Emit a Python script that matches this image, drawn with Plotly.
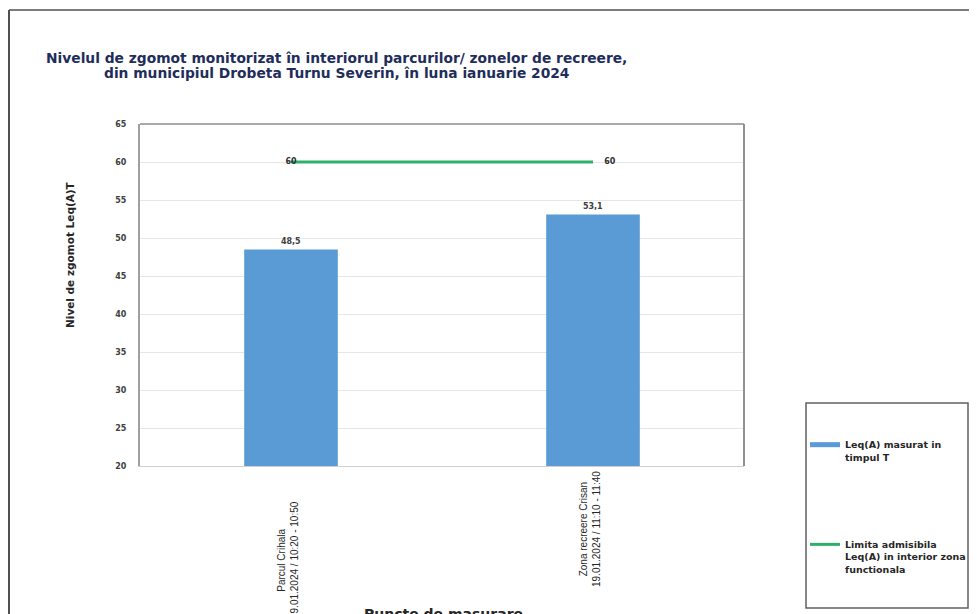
import plotly.graph_objects as go

categories = ["Parcul Crihala", "Zona recreere Crisan"]
tick_labels = ["Parcul Crihala<br>19.01.2024 / 10:20 - 10:50",
               "Zona recreere Crisan<br>19.01.2024 / 11:10 - 11:40"]
leq_values = [48.5, 53.1]
limit_values = [60, 60]
y_ticks = [20, 25, 30, 35, 40, 45, 50, 55, 60, 65]

title_lines = ["Nivelul de zgomot monitorizat în interiorul parcurilor/ zonelor de recreere,",
               "din municipiul Drobeta Turnu Severin, în luna ianuarie 2024"]

BAR_COLOR = "#5b9bd5"
LINE_COLOR = "#2eb06c"
FONT = "DejaVu Sans"


def px(xp):  # page pixel x -> paper
    return (xp - 140) / 604


def py(yp):  # page pixel y -> paper
    return (466 - yp) / 342


fig = go.Figure()
fig.add_trace(go.Bar(
    x=categories, y=leq_values, width=0.31,
    marker=dict(color=BAR_COLOR, line=dict(width=0)),
    showlegend=False,
    text=["<b>" + f"{v:.1f}".replace(".", ",") + "</b>" for v in leq_values],
    textposition="outside",
    textfont=dict(size=8, color="#404040", family=FONT),
    cliponaxis=False,
))
# legend sample for the bar series (drawn as a thick line, as in the reference)
fig.add_trace(go.Scatter(
    x=[None], y=[None], mode="lines",
    line=dict(color=BAR_COLOR, width=5),
    name="<b>Leq(A) masurat in<br>timpul T</b>",
    legendgroup="a",
))
fig.add_trace(go.Scatter(
    x=categories, y=limit_values, mode="lines+text",
    line=dict(color=LINE_COLOR, width=3),
    name="<b>Limita admisibila<br>Leq(A) in interior zona<br>functionala</b>",
    text=["<b>" + str(limit_values[0]) + "</b>",
          "<b>\u00a0\u00a0\u00a0\u00a0" + str(limit_values[1]) + "</b>"],
    textposition=["middle center", "middle right"],
    textfont=dict(size=8, color="#303030", family=FONT),
    legendgroup="b",
))

annotations = [
    dict(text="<b>" + title_lines[0] + "</b>", x=px(336), y=py(58), xref="paper", yref="paper",
         xanchor="center", yanchor="middle", showarrow=False,
         font=dict(size=13.8, color="#1f2d5a", family=FONT)),
    dict(text="<b>" + title_lines[1] + "</b>", x=px(336), y=py(73), xref="paper", yref="paper",
         xanchor="center", yanchor="middle", showarrow=False,
         font=dict(size=13.8, color="#1f2d5a", family=FONT)),
    dict(text="<b>Nivel de zgomot Leq(A)T</b>", x=px(70), y=py(255), xref="paper", yref="paper",
         xanchor="center", yanchor="middle",
         showarrow=False, textangle=-90, font=dict(size=10.5, color="#262626", family=FONT)),
    dict(text="<b>Puncte de masurare</b>", x=px(443), y=py(614), xref="paper", yref="paper",
         xanchor="center", yanchor="middle",
         showarrow=False, font=dict(size=14, color="#262626", family=FONT)),
]
label_y = [py(560), py(529)]
for cat, lab, ly in zip(categories, tick_labels, label_y):
    annotations.append(dict(text=lab, x=cat, y=ly, xref="x", yref="paper", xshift=-3,
                            showarrow=False, textangle=-90, xanchor="center", yanchor="middle",
                            align="center",
                            font=dict(size=10, color="#262626",
                                      family="Liberation Sans Narrow, Arial Narrow, sans-serif")))

fig.update_layout(
    width=977, height=614,
    margin=dict(l=132, r=241, t=116, b=156),
    paper_bgcolor="white", plot_bgcolor="white",
    showlegend=True,
    legend=dict(x=px(805), y=py(432), xanchor="left", yanchor="top",
                borderwidth=0, valign="top",
                font=dict(size=9.5, color="#262626", family=FONT),
                tracegroupgap=72, traceorder="grouped",
                bgcolor="rgba(0,0,0,0)"),
    annotations=annotations,
    shapes=[
        # outer chart frame (left and top edges)
        dict(type="line", xref="paper", yref="paper", x0=-131 / 604, x1=-131 / 604,
             y0=-0.6, y1=py(10), line=dict(color="#505050", width=2)),
        dict(type="line", xref="paper", yref="paper", x0=-131 / 604, x1=1.5,
             y0=py(10), y1=py(10), line=dict(color="#505050", width=1.5)),
        # legend frame
        dict(type="rect", xref="paper", yref="paper",
             x0=px(806), x1=px(968), y0=py(608), y1=py(403),
             line=dict(color="#606060", width=1.5), fillcolor="rgba(0,0,0,0)", layer="below"),
        # plot area top and right border
        dict(type="line", xref="paper", yref="paper", x0=0, x1=1, y0=1, y1=1,
             line=dict(color="#a8a8a8", width=2)),
        dict(type="line", xref="paper", yref="paper", x0=1, x1=1, y0=0, y1=1,
             line=dict(color="#909090", width=2)),
    ],
)
fig.update_xaxes(showticklabels=False, showline=True, linecolor="#d0d0d0", linewidth=1,
                 mirror=False, ticks="", range=[-0.5, 1.5])
fig.update_yaxes(range=[20, 65], tickvals=y_ticks, showgrid=True, gridcolor="#e6e6e6",
                 showline=True, linecolor="#a0a0a0", linewidth=2, mirror=False,
                 tickfont=dict(size=8, color="#404040", family=FONT, weight="bold"),
                 ticks="", zeroline=False, ticklabelstandoff=10)

fig.write_html("out.html")
